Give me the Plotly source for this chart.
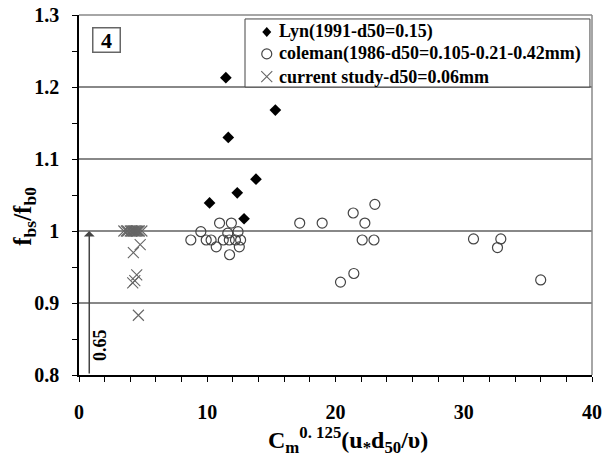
import plotly.graph_objects as go

# Lyn (1991), d50 = 0.15 mm
lyn_x = [11.45, 11.64, 15.31, 10.18, 12.34, 13.80, 12.87]
lyn_y = [1.213, 1.130, 1.168, 1.039, 1.053, 1.072, 1.017]

# Coleman (1986), d50 = 0.105 / 0.21 / 0.42 mm
col_x = [8.72, 9.50, 9.92, 10.30, 10.70, 10.96, 11.25, 11.60, 11.72, 11.74, 11.88,
         12.20, 12.40, 12.50, 12.60,
         17.21, 18.96, 21.38, 22.29, 23.07, 22.08, 23.00, 21.43, 20.39,
         30.76, 32.89, 32.63, 36.00]
col_y = [0.9875, 0.999, 0.9875, 0.9875, 0.978, 1.011, 0.9875, 0.997, 0.9875, 0.967, 1.011,
         0.9875, 0.999, 0.978, 0.9875,
         1.011, 1.011, 1.025, 1.011, 1.037, 0.9875, 0.9875, 0.941, 0.929,
         0.989, 0.989, 0.977, 0.932]

# Current study, d50 = 0.06 mm
cur_x = [3.5, 3.7, 3.8, 4.0, 4.1, 4.2, 4.3, 4.4, 4.5, 4.6, 4.7, 4.9,
         4.24, 4.77, 4.35, 4.50, 4.19, 4.63]
cur_y = [1.0, 1.0, 1.0, 1.0, 1.0, 1.0, 1.0, 1.0, 1.0, 1.0, 1.0, 1.0,
         0.970, 0.981, 0.931, 0.939, 0.928, 0.883]

series_names = ["Lyn(1991-d50=0.15)",
                "coleman(1986-d50=0.105-0.21-0.42mm)",
                "current study-d50=0.06mm"]

x_ticks = [0, 10, 20, 30, 40]
y_ticks = [0.8, 0.9, 1.0, 1.1, 1.2, 1.3]
y_tick_text = ["0.8", "0.9", "1", "1.1", "1.2", "1.3"]

SERIF = "Times New Roman"

DIAMOND = dict(symbol="diamond", size=9, color="black")
CIRCLE = dict(symbol="circle-open", size=10, color="#444", line=dict(width=1.2, color="#444"))
CROSS = dict(symbol="x-thin-open", size=11, color="#666", line=dict(width=1.1, color="#666"))

fig = go.Figure()
fig.add_trace(go.Scatter(x=lyn_x, y=lyn_y, mode="markers", name=series_names[0], marker=DIAMOND))
fig.add_trace(go.Scatter(x=col_x, y=col_y, mode="markers", name=series_names[1], marker=CIRCLE))
fig.add_trace(go.Scatter(x=cur_x, y=cur_y, mode="markers", name=series_names[2], marker=CROSS))

fig.update_layout(
    width=603, height=457,
    margin=dict(l=79, r=11, t=15, b=82),
    plot_bgcolor="white", paper_bgcolor="white",
    font=dict(family=SERIF, color="black"),
    showlegend=False,
    xaxis=dict(
        range=[0, 40], tickvals=x_ticks, ticktext=["<b>%d</b>" % v for v in x_ticks],
        showgrid=False, zeroline=False, automargin=False,
        showline=True, linecolor="black", linewidth=1.5,
        ticks="outside", ticklen=5, tickcolor="black",
        minor=dict(dtick=2, ticks="outside", ticklen=5, tickcolor="black", showgrid=False),
        tickfont=dict(family=SERIF, size=20),
        ticklabelstandoff=13,
    ),
    yaxis=dict(
        range=[0.8, 1.3], tickvals=y_ticks, ticktext=["<b>%s</b>" % t for t in y_tick_text],
        showgrid=True, gridcolor="#888", gridwidth=1.5, zeroline=False, automargin=False,
        showline=True, linecolor="black", linewidth=1.5,
        ticks="outside", ticklen=5, tickcolor="black",
        minor=dict(dtick=0.05, tick0=0.8, ticks="outside", ticklen=5, tickcolor="black", showgrid=False),
        tickfont=dict(family=SERIF, size=20),
        ticklabelstandoff=9,
    ),
)

# axis titles
fig.add_annotation(x=0.524, y=-0.18, xref="paper", yref="paper", xanchor="center", yanchor="middle",
                   text="<b>C<sub>m</sub><sup>0. 125</sup>(u<sub>*</sub>d<sub>50</sub>/υ)</b>",
                   showarrow=False, font=dict(family=SERIF, size=24))
fig.add_annotation(x=-0.107, y=0.44, xref="paper", yref="paper", xanchor="center", yanchor="middle",
                   text="<b>f<sub>bs</sub>/f<sub>b0</sub></b>", textangle=-90,
                   showarrow=False, font=dict(family=SERIF, size=25))

# gray frame on the top and right edges
fig.add_shape(type="line", xref="paper", yref="paper", x0=0, x1=1, y0=1, y1=1,
              line=dict(color="#888", width=1.5))
fig.add_shape(type="line", xref="paper", yref="paper", x0=1, x1=1, y0=0, y1=1,
              line=dict(color="#888", width=1.5))

# legend box, drawn by hand so the row spacing stays tight
LEG_X0, LEG_X1, LEG_Y0, LEG_Y1 = 0.3236, 0.996, 0.80, 0.989
fig.add_shape(type="rect", xref="paper", yref="paper", x0=LEG_X0, x1=LEG_X1, y0=LEG_Y0, y1=LEG_Y1,
              line=dict(color="#444", width=1), fillcolor="white", layer="above")
row_y = [0.953, 0.892, 0.829]
sym_x = 0.366
pix = dict(xref="paper", yref="paper", xsizemode="pixel", ysizemode="pixel", layer="above")
fig.add_shape(type="path", xanchor=sym_x, yanchor=row_y[0],
              path="M 0 5 L 4.5 0 L 0 -5 L -4.5 0 Z", fillcolor="black",
              line=dict(color="black", width=0), **pix)
fig.add_shape(type="circle", xanchor=sym_x, yanchor=row_y[1], x0=-5, x1=5, y0=-5, y1=5,
              line=dict(color="#444", width=1.2), **pix)
fig.add_shape(type="path", xanchor=sym_x, yanchor=row_y[2],
              path="M -5.5 -5.5 L 5.5 5.5 M -5.5 5.5 L 5.5 -5.5",
              line=dict(color="#666", width=1.1), **pix)
for name, yy in zip(series_names, row_y):
    fig.add_annotation(x=0.386, y=yy, xref="paper", yref="paper", xanchor="left", yanchor="middle",
                       text="<b>%s</b>" % name, showarrow=False,
                       font=dict(family=SERIF, size=18))

# panel number box
fig.add_annotation(x=0.053, y=0.93, xref="paper", yref="paper", xanchor="center", yanchor="middle",
                   text="<b>4</b>", showarrow=False, font=dict(family=SERIF, size=22),
                   bordercolor="#666", borderwidth=1.5, borderpad=1, bgcolor="white", width=24, height=21)

# arrow from the axis up to f_bs/f_b0 = 1 with its label
fig.add_annotation(x=0.8, y=1.0, ax=0.8, ay=0.8, xref="x", yref="y", axref="x", ayref="y",
                   text="", showarrow=True, arrowhead=1, arrowsize=1.2, arrowwidth=1.5,
                   arrowcolor="#444")
fig.add_annotation(x=1.65, y=0.842, xref="x", yref="y", text="<b>0.65</b>", textangle=-90,
                   showarrow=False, font=dict(family=SERIF, size=18))

fig.write_html("out.html")
